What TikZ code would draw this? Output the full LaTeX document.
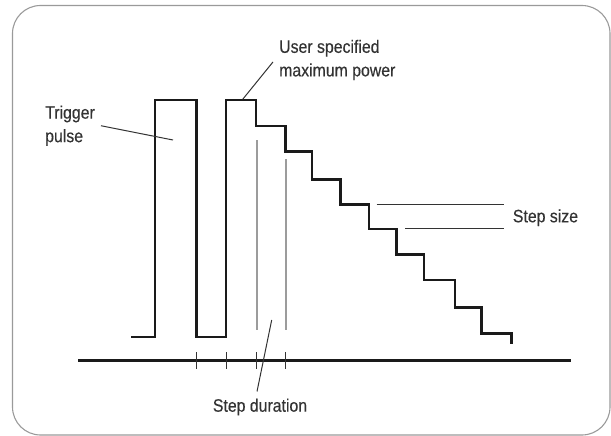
\documentclass[tikz,border=0pt]{standalone}
\usepackage{fontspec}
\newfontfamily\diagfont{Liberation Sans}[FakeStretch=0.88, FakeBold=0.35]
\usepackage{tikz}
\usetikzlibrary{calc}
\definecolor{inkblack}{HTML}{1A1A1A}
\definecolor{inkgray}{HTML}{333333}
\definecolor{guidegray}{HTML}{9C9C9C}
\definecolor{framegray}{HTML}{9A9A9A}

\begin{document}
\begin{tikzpicture}[x=1pt, y=-1pt, line join=miter]
	\tikzstyle{txt}=[inner sep=0pt, text=inkgray, align=left,
	font=\diagfont\fontsize{18}{23.5}\selectfont]
	\tikzstyle{wave}=[draw=inkblack, line width=2.8pt]
	\tikzstyle{guide}=[draw=guidegray, line width=1.6pt]
	\tikzstyle{leader}=[draw=inkgray, line width=1pt]
	\tikzstyle{tickmark}=[draw=inkgray, line width=1pt]

	\useasboundingbox (0,0) rectangle (611,436);
	\draw[framegray, line width=1.1pt, rounded corners=28pt] (12.5,5.5) rectangle (610,435);

	% labels
	\node[txt, anchor=north west] (trig) at (45,105.4) {Trigger\\pulse};
	\node[txt, anchor=north west] (user) at (279,39.6) {User specified\\maximum power};
	\node[txt, anchor=base west] (size) at (512.7,222.3) {Step size};
	\node[txt, anchor=base west] (dur) at (212.7,411.7) {Step duration};

	% time axis and pulse train
	\draw[inkblack, line width=3.2pt] (78,360.7) -- (571,360.7);
	\draw[wave] (131,337) -| (155,100) -| (196.7,337) -| (226,100) -| (256,126)
	-| (285.7,151.7) -| (312,179.3) -| (340.7,204.3) -| (369,229) -| (396.7,254.3)
	-| (424,280) -| (455,307.3) -| (481.7,333.3) -| (511.7,344);
	\draw[guide] (256.7,140) -- (256.7,330); \draw[guide] (285.7,159) -- (285.7,330);
	\foreach \x in {196.7,226,256.7,285.7} \draw[tickmark] (\x,352) -- (\x,369);

	% leaders
	\coordinate (trigtip) at (173,140);
	\coordinate (usertip) at (242.7,99.3);
	\coordinate (durtip) at (271.7,320);
	\coordinate (sizeA) at (376.7,204);
	\coordinate (sizeB) at (405,228.3);
	\coordinate (sizeend) at ([xshift=-8.7pt]size.west);
	\draw[leader] ([xshift=6pt]trig.east) -- (trigtip);
	\draw[leader] ([shift={(-6,2)}]user.west) -- (usertip);
	\draw[leader] ([shift={(-3,-7)}]dur.north) -- (durtip);
	\draw[leader] (sizeA) -- (sizeA -| sizeend);
	\draw[leader] (sizeB) -- (sizeB -| sizeend);
\end{tikzpicture}
\end{document}
